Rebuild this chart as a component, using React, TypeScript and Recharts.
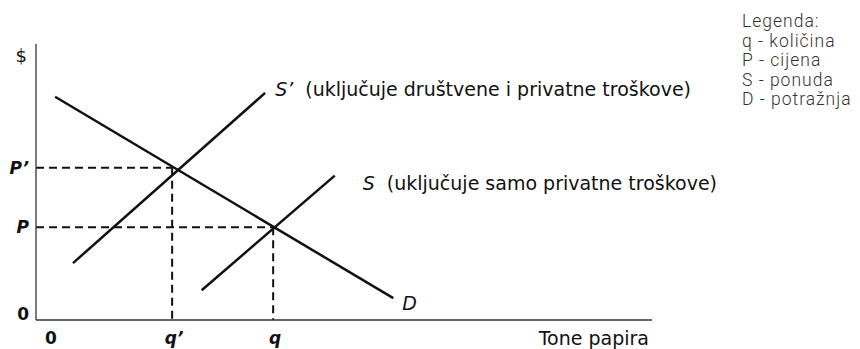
import { LineChart, Line, XAxis, YAxis, ReferenceLine, Label, LabelList } from 'recharts';

// quantity (x) and price (y) in arbitrary units 0..100
const quantityTicks = [0, 22.1, 38.5];
const quantityTickLabels = ['0', 'q’', 'q'];
const priceTicks = [0, 33.6, 55.2];
const priceTickLabels = ['0', 'P', 'P’'];

const demandQ = [3.1, 58];
const demandP = [80.9, 7.9];
const socialSupplyQ = [6, 37.2];
const socialSupplyP = [20.6, 82.3];
const privateSupplyQ = [26.9, 48.5];
const privateSupplyP = [10.8, 52.3];

const legendLines = ['Legenda:', 'q - količina', 'P - cijena', 'S - ponuda', 'D - potražnja'];

const qSocial = quantityTicks[1];
const qPrivate = quantityTicks[2];
const pPrivate = priceTicks[1];
const pSocial = priceTicks[2];

const toPoints = (qs: number[], ps: number[]) => qs.map((q, i) => ({ q, p: ps[i] }));

const FONT = '"DejaVu Sans", "Liberation Sans", Arial, sans-serif';
const INK = '#111';

function QTick(props: any) {
  const { x, y, payload } = props;
  const i = quantityTicks.indexOf(payload.value);
  const isZero = payload.value === 0;
  return (
    <text x={x + (isZero ? 15 : 2)} y={y + 24} textAnchor="middle" fontFamily={FONT} fontSize={17}
      fontWeight="bold" fontStyle={isZero ? 'normal' : 'oblique'} fill={INK}>
      {quantityTickLabels[i]}
    </text>
  );
}

function PTick(props: any) {
  const { x, y, payload } = props;
  const i = priceTicks.indexOf(payload.value);
  const isZero = payload.value === 0;
  return (
    <text x={x - 7} y={y + (isZero ? 0 : 6)} textAnchor="end" fontFamily={FONT} fontSize={17}
      fontWeight="bold" fontStyle={isZero ? 'normal' : 'oblique'} fill={INK}>
      {priceTickLabels[i]}
    </text>
  );
}

function endLabel(symbol: string, note: string, dx: number, dy: number) {
  return (props: any) => {
    if (props.index !== 1) return null;
    return (
      <text x={props.x + dx} y={props.y + dy} fontFamily={FONT} fontSize={19} fill={INK}>
        <tspan fontStyle="oblique">{symbol}</tspan>
        {note ? <tspan dx={12}>{note}</tspan> : null}
      </text>
    );
  };
}

export default function App() {
  const dash = { stroke: INK, strokeWidth: 2, strokeDasharray: '8 5' };
  return (
    <div style={{ position: 'absolute', left: 0, top: 0, width: 860, height: 349, background: '#fff' }}>
      <LineChart width={860} height={349} margin={{ top: 44, right: 208, bottom: 0, left: 0 }}>
        <XAxis type="number" dataKey="q" domain={[0, 100]} ticks={quantityTicks} tick={<QTick />}
          tickLine={false} tickSize={0} tickMargin={0} height={29} axisLine={{ stroke: '#333', strokeWidth: 1.3 }}>
          <Label content={(p: any) => (
            <text x={p.viewBox.x + p.viewBox.width - 3} y={p.viewBox.y + 25} textAnchor="end"
              fontFamily={FONT} fontSize={19} fill={INK}>Tone papira</text>
          )} />
        </XAxis>
        <YAxis type="number" domain={[0, 100]} ticks={priceTicks} tick={<PTick />} width={36}
          tickLine={false} tickSize={0} tickMargin={0} axisLine={{ stroke: '#333', strokeWidth: 1.3 }}>
          <Label content={(p: any) => (
            <text x={p.viewBox.x + p.viewBox.width - 9} y={p.viewBox.y + 18} textAnchor="end"
              fontFamily={FONT} fontSize={18} fill={INK}>$</text>
          )} />
        </YAxis>

        <ReferenceLine segment={[{ x: 0, y: pSocial }, { x: qSocial, y: pSocial }]} {...dash} />
        <ReferenceLine segment={[{ x: qSocial, y: pSocial }, { x: qSocial, y: 0 }]} {...dash} />
        <ReferenceLine segment={[{ x: 0, y: pPrivate }, { x: qPrivate, y: pPrivate }]} {...dash} />
        <ReferenceLine segment={[{ x: qPrivate, y: pPrivate }, { x: qPrivate, y: 0 }]} {...dash} />

        <Line data={toPoints(demandQ, demandP)} dataKey="p" type="linear" stroke={INK} strokeWidth={2.5}
          dot={false} activeDot={false} isAnimationActive={false}>
          <LabelList dataKey="p" content={endLabel('D', '', 9, 12)} />
        </Line>
        <Line data={toPoints(socialSupplyQ, socialSupplyP)} dataKey="p" type="linear" stroke={INK} strokeWidth={2.5}
          dot={false} activeDot={false} isAnimationActive={false}>
          <LabelList dataKey="p" content={endLabel('S’', '(uključuje društvene i privatne troškove)', 10, 3)} />
        </Line>
        <Line data={toPoints(privateSupplyQ, privateSupplyP)} dataKey="p" type="linear" stroke={INK} strokeWidth={2.5}
          dot={false} activeDot={false} isAnimationActive={false}>
          <LabelList dataKey="p" content={endLabel('S', '(uključuje samo privatne troškove)', 28, 14)} />
        </Line>
      </LineChart>
      <div style={{ position: 'absolute', left: 742, top: 12, fontFamily: 'Roboto, sans-serif', fontWeight: 300,
        fontSize: 17.5, lineHeight: '19.5px', letterSpacing: 1, color: '#333' }}>
        {legendLines.map((t) => <div key={t}>{t}</div>)}
      </div>
    </div>
  );
}
